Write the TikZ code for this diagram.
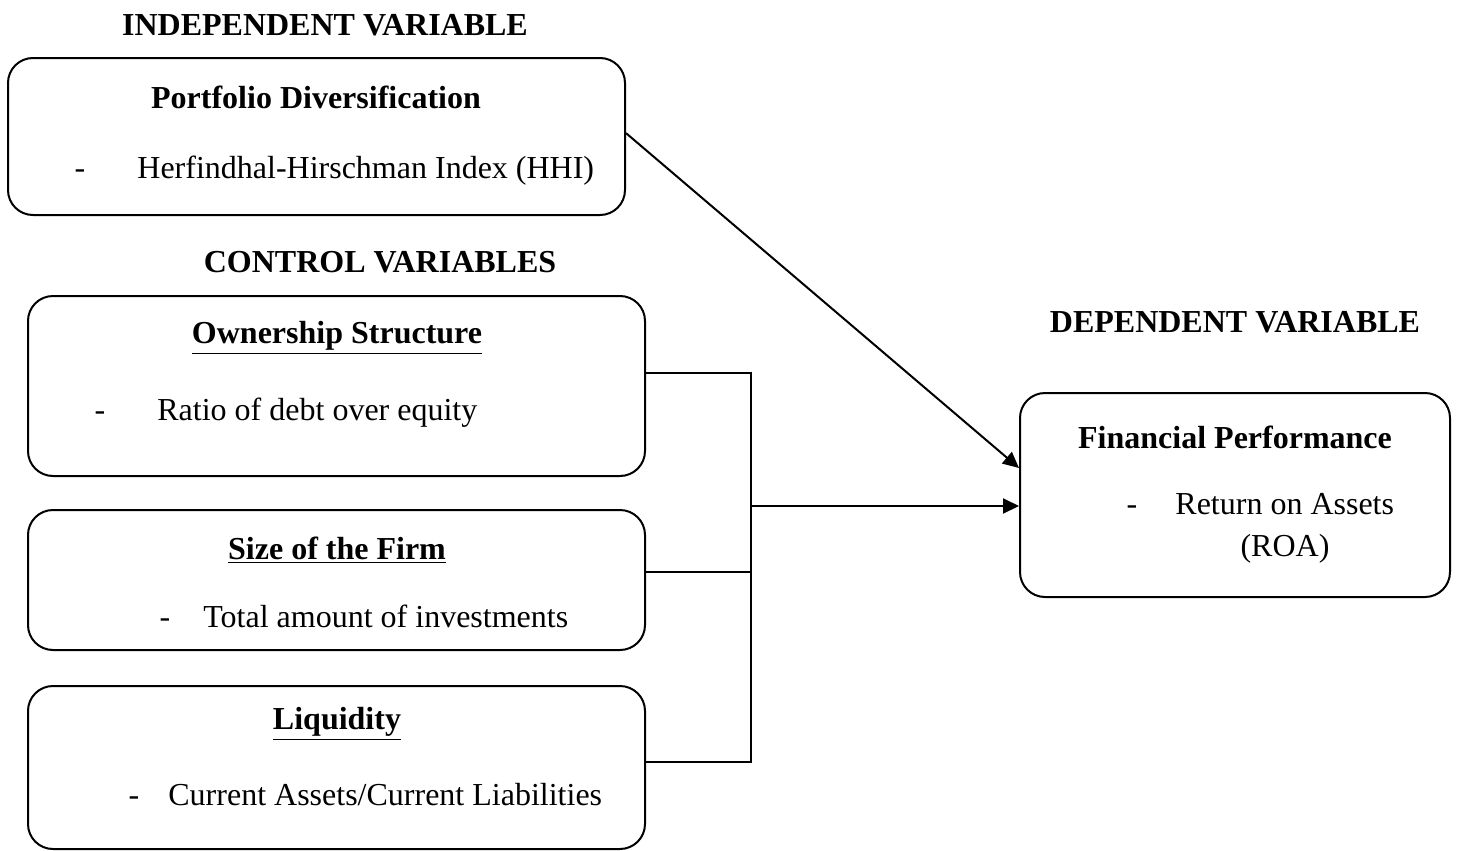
\documentclass[tikz,border=0pt]{standalone}
\usepackage{fontspec}
\setmainfont{Liberation Serif}
\usepackage{tikz}
\usetikzlibrary{arrows.meta,positioning}
\newcommand{\hd}[1]{\textbf{#1}}
\newcommand{\uhd}[1]{\underline{\textbf{#1}}}

\begin{document}
\begin{tikzpicture}[x=0.5pt,y=-0.5pt,
  every node/.style={font=\fontsize{16}{19}\selectfont},
  varbox/.style={draw,line width=1pt,rounded corners=12.5pt,minimum width=308.5pt},
  dashmark/.style={anchor=base,inner sep=0pt},
  itemtxt/.style={anchor=base west,inner sep=0pt},
  conn/.style={line width=1pt},
  arr/.style={conn,-{Triangle[length=8pt,width=7.5pt]}}]
\useasboundingbox (0,0) rectangle (1457,851);
% boxes
\node[varbox,minimum height=78.5pt] (pd) at (316.5,136.5) {};
\node[varbox,minimum height=90pt] (own) at (336.5,386) {};
\node[varbox,minimum height=70pt] (size) at (336.5,580) {};
\node[varbox,minimum height=81.5pt] (liq) at (336.5,767.5) {};
\node[varbox,minimum width=215pt,minimum height=102pt] (fin) at (1235,495) {};
% headings
\node (indep) at (325,25) {\hd{INDEPENDENT VARIABLE}};
\node (ctrl) at (380,262) {\hd{CONTROL VARIABLES}};
\node (dep) at (1235,322) {\hd{DEPENDENT VARIABLE}};
% box texts
\node (pdt) at (316,97) {\hd{Portfolio Diversification}};
\node[dashmark] (pdd) at (80,178) {-};
\node[itemtxt] (pdi) at (137,178) {Herfindhal-Hirschman Index (HHI)};
\node (ownt) at (337,338) {\uhd{Ownership Structure}};
\node[dashmark] (ownd) at (100,420) {-};
\node[itemtxt] (owni) at (157,420) {Ratio of debt over equity};
\node (sizet) at (337,550) {\uhd{Size of the Firm}};
\node[dashmark] (sized) at (165,627) {-};
\node[itemtxt] (sizei) at (203,627) {Total amount of investments};
\node (liqt) at (337,724) {\uhd{Liquidity}};
\node[dashmark] (liqd) at (134,805) {-};
\node[itemtxt] (liqi) at (168,805) {Current Assets/Current Liabilities};
\node (fint) at (1235,437) {\hd{Financial Performance}};
\node[dashmark] (find) at (1132,514) {-};
\node[itemtxt] (fini) at (1175,514) {Return on Assets};
\node[anchor=base] (finr) at (1285,556) {(ROA)};
% connectors
\coordinate (bt) at (751,373);
\coordinate (bm) at (751,506);
\coordinate (bb) at (751,762);
\draw[arr] ([yshift=1.7pt]pd.east) -- ([yshift=13.5pt]fin.west);
\draw[conn] (own.east |- bt) -- (bt) -- (bb) -- (liq.east |- bb);
\draw[conn] ([yshift=4pt]size.east) -- ([yshift=4pt]bt |- size.east);
\draw[arr] (bm) -- (fin.west |- bm);
\end{tikzpicture}
\end{document}
